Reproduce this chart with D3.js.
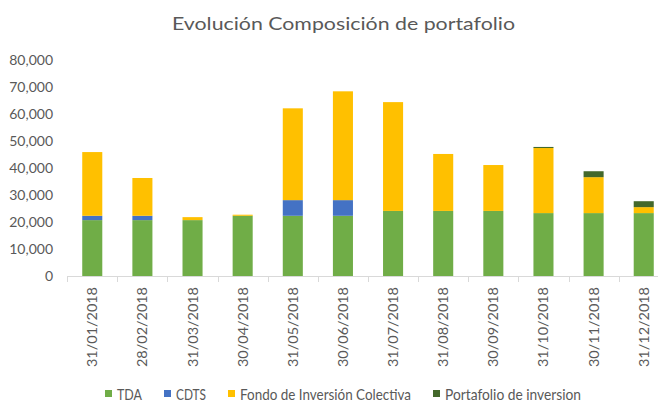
<!DOCTYPE html>
<html>
<head>
<meta charset="utf-8">
<script src="https://cdn.jsdelivr.net/npm/d3@7"></script>
<style>
  html, body { margin: 0; padding: 0; background: #ffffff; }
  text { font-family: Lato, "Open Sans", sans-serif; fill: #595959; }
</style>
</head>
<body>
<script>
// chart data
var dates = ['31/01/2018', '28/02/2018', '31/03/2018', '30/04/2018', '31/05/2018', '30/06/2018',
             '31/07/2018', '31/08/2018', '30/09/2018', '31/10/2018', '30/11/2018', '31/12/2018'];
var tda        = [20700, 20700, 20700, 22300, 22300, 22300, 24100, 24100, 24100, 23300, 23300, 23300];
var cdts       = [1600, 1600, 0, 0, 5800, 5800, 0, 0, 0, 0, 0, 0];
var fondo      = [23600, 14000, 1100, 400, 34000, 40300, 40300, 21100, 17000, 24100, 13300, 2200];
var portafolio = [0, 0, 0, 0, 0, 0, 0, 0, 0, 400, 2200, 2200];
var series_names = ['TDA', 'CDTS', 'Fondo de Inversión Colectiva', 'Portafolio de inversion'];
var series_colors = ['#70AD47', '#4472C4', '#FFC000', '#43682B'];
var y_ticks = [0, 10000, 20000, 30000, 40000, 50000, 60000, 70000, 80000];

var width = 658, height = 402;
var svg = d3.select('body').append('svg').attr('width', width).attr('height', height);
svg.append('rect').attr('width', width).attr('height', height).attr('fill', '#fff');

// build rows for the stack
var keys = ['tda', 'cdts', 'fondo', 'portafolio'];
var rows = dates.map(function(d, i) {
    return {date: d, tda: tda[i], cdts: cdts[i], fondo: fondo[i], portafolio: portafolio[i]};
});
var series = d3.stack().keys(keys)(rows);

var x_scale = d3.scaleBand().domain(dates).range([67.2, 668.8]).paddingInner(0.6).paddingOuter(0.3);
var y_scale = d3.scaleLinear().domain([0, 80000]).range([276, 60]);

// title
svg.append('text').attr('x', 343.5).attr('y', 30).attr('text-anchor', 'middle')
   .style('font-size', '18px').attr('textLength', 343).attr('lengthAdjust', 'spacingAndGlyphs')
   .text('Evolución Composición de portafolio');

// y labels (no axis line)
svg.append('g').selectAll('text').data(y_ticks).enter().append('text')
   .attr('x', 53).attr('y', d => y_scale(d)).attr('dy', '0.35em')
   .attr('text-anchor', 'end').style('font-size', '14px')
   .text(d => d3.format(',')(d));

// bars
svg.append('g').selectAll('g').data(series).enter().append('g')
   .attr('fill', (d, i) => series_colors[i])
   .selectAll('rect').data(d => d).enter().append('rect')
   .attr('x', d => x_scale(d.data.date))
   .attr('width', x_scale.bandwidth())
   .attr('y', d => y_scale(d[1]))
   .attr('height', d => y_scale(d[0]) - y_scale(d[1]));

// x axis line + ticks between categories
var step = x_scale.step();
var x0 = x_scale.range()[0];
svg.append('line').attr('x1', x0).attr('x2', width).attr('y1', 276.5).attr('y2', 276.5)
   .attr('stroke', '#D9D9D9').attr('stroke-width', 1);
svg.append('g').selectAll('line').data(d3.range(dates.length + 1)).enter().append('line')
   .attr('x1', i => Math.round(x0 + i * step) + 0.5).attr('x2', i => Math.round(x0 + i * step) + 0.5)
   .attr('y1', 276).attr('y2', 282).attr('stroke', '#D9D9D9');

// rotated category labels
svg.append('g').selectAll('text').data(dates).enter().append('text')
   .attr('transform', d => 'translate(' + (x_scale(d) + x_scale.bandwidth() / 2 + 5) + ',287) rotate(-90)')
   .attr('text-anchor', 'end').style('font-size', '14px')
   .attr('textLength', 80).attr('lengthAdjust', 'spacingAndGlyphs')
   .text(d => d);

// legend
var legend_widths = [25, 30, 171, 136];
var legend = svg.append('g');
var lx = 105;
series_names.forEach(function(name, i) {
    legend.append('rect').attr('x', lx).attr('y', 390).attr('width', 7).attr('height', 7)
          .attr('fill', series_colors[i]);
    legend.append('text').attr('x', lx + 12).attr('y', 400).style('font-size', '15px')
          .attr('textLength', legend_widths[i]).attr('lengthAdjust', 'spacingAndGlyphs')
          .text(name);
    lx += 12 + legend_widths[i] + 22;
});
</script>
</body>
</html>
